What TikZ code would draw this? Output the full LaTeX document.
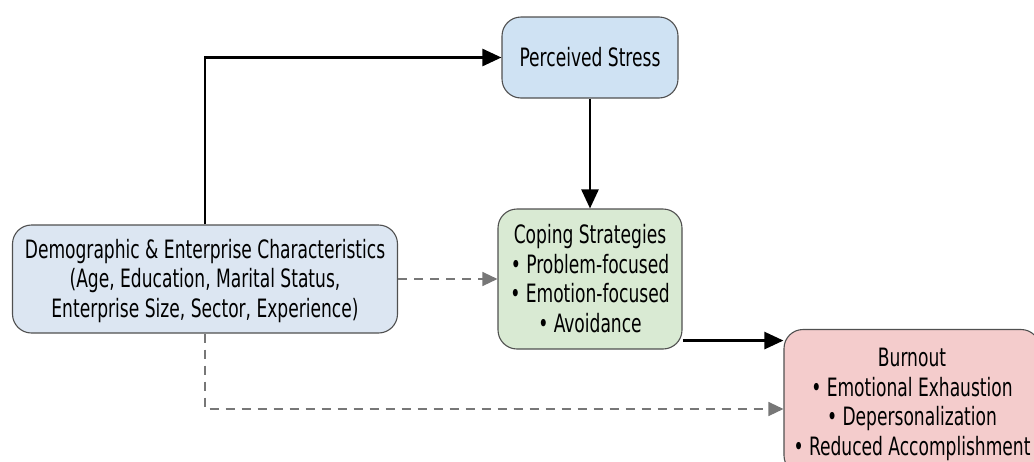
\documentclass[tikz,border=0pt]{standalone}
\usepackage{fontspec}
\setmainfont{DejaVu Sans Condensed}
\usetikzlibrary{arrows.meta,positioning}

\definecolor{demoblue}{HTML}{DCE6F2}
\definecolor{stressblue}{HTML}{CFE2F3}
\definecolor{copegreen}{HTML}{D9EAD3}
\definecolor{burnred}{HTML}{F4CCCC}
\definecolor{edgegray}{HTML}{505050}
\definecolor{dashgray}{HTML}{777777}

% taller lettering, as in the figure
\newcommand{\tall}[1]{\raisebox{-3pt}[\height][\depth]{\scalebox{1}[1.33]{\begin{tabular}{@{}c@{}}#1\end{tabular}}}}

\tikzset{
  box/.style={draw=edgegray, line width=1.1pt, rounded corners=19pt, align=center,
    font=\fontsize{19}{22.5}\selectfont, inner sep=4pt},
  link/.style={-{Triangle[length=19pt,width=17pt]}, line width=2.5pt, draw=black},
  weaklink/.style={-{Triangle[length=15pt,width=14pt]}, line width=1.3pt, draw=dashgray,
    dash pattern=on 9pt off 7pt}
}

\begin{document}
\begin{tikzpicture}[x=1pt,y=-1pt]
\useasboundingbox (0,0) rectangle (1034,461);
\clip (0,0) rectangle (1034,461);

\node[box,fill=demoblue,minimum width=385pt,minimum height=108pt] (demo) at (205,279)
  {\tall{Demographic \& Enterprise Characteristics\\(Age, Education, Marital Status,\\Enterprise Size, Sector, Experience)}};
\node[box,fill=stressblue,minimum width=176pt,minimum height=81pt] (stress) at (590,57.5) {\tall{Perceived Stress}};
\node[box,fill=copegreen,minimum width=184pt,minimum height=140pt] (cope) at (590,279)
  {\tall{Coping Strategies\\• Problem-focused\\• Emotion-focused\\• Avoidance}};
\node[box,fill=burnred,minimum width=256pt,minimum height=145pt] (burn) at (912,402)
  {\tall{Burnout\\• Emotional Exhaustion\\• Depersonalization\\• Reduced Accomplishment}};

% solid paths
\draw[link] (demo.north) |- (stress.west);
\draw[link] (stress.south) -- (cope.north);
\coordinate (copeout) at ([yshift=9pt]cope.south east);
\draw[link] (copeout) -- (copeout -| burn.west);

% dashed paths
\draw[weaklink] (demo.east) -- (cope.west);
\draw[weaklink] (demo.south) |- ([yshift=-7pt]burn.west);

\end{tikzpicture}
\end{document}
